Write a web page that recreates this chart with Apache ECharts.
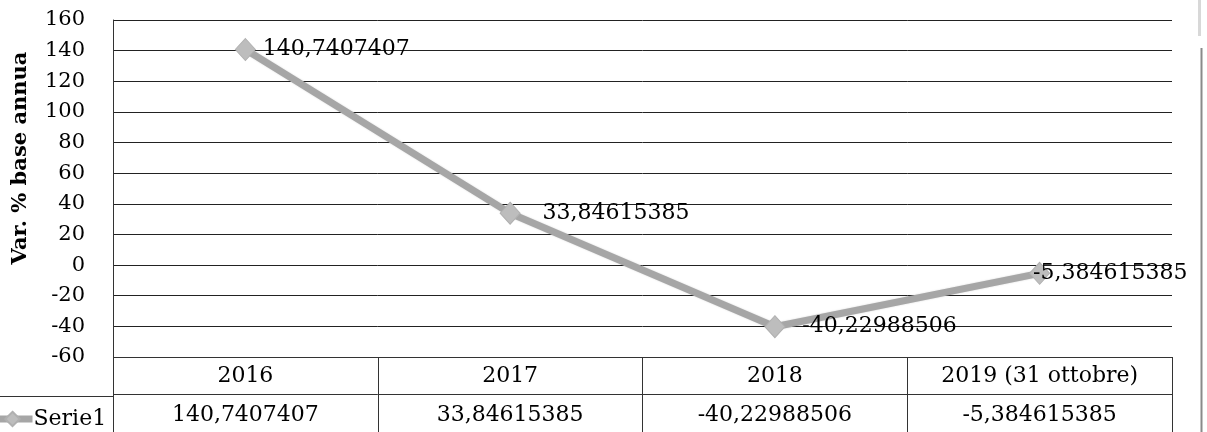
<!DOCTYPE html>
<html>
<head>
<meta charset="utf-8">
<script src="https://cdn.jsdelivr.net/npm/echarts@6/dist/echarts.min.js"></script>
<style>
  html, body { margin: 0; padding: 0; background: #ffffff; }
  #chart { width: 1207px; height: 432px; }
</style>
</head>
<body>
<div id="chart"></div>
<script>
// Annual percentage change, one series with a data table underneath
const categories = ['2016', '2017', '2018', '2019 (31 ottobre)'];
const serie1 = [140.7407407, 33.84615385, -40.22988506, -5.384615385];
const seriesName = 'Serie1';
const yTitle = 'Var. % base annua';
const yMin = -60, yMax = 160, yStep = 20;

// Italian decimal comma
const fmt = v => String(v).replace('.', ',');

const FONT = 'DejaVu Serif';
const INK = '#000000';
const LINE_GREY = '#a6a6a6';

// horizontal nudge of each point label, left to right
const labelShift = [7, 22, 17, -17];

const chart = echarts.init(document.getElementById('chart'), null, { renderer: 'canvas' });

chart.setOption({
  backgroundColor: '#ffffff',
  animation: false,
  grid: [
    { left: 113, right: 35, top: 20, height: 337 },      // plot area
    { left: 113, right: 35, top: 357, height: 78 }       // data table
  ],
  legend: {
    data: [seriesName],
    left: -16,
    top: 403,
    itemWidth: 40,
    itemHeight: 18,
    itemGap: 0,
    lineStyle: { width: 7, color: LINE_GREY },
    textStyle: { fontFamily: FONT, fontSize: 22, color: INK, padding: [0, 0, 0, -4] }
  },
  xAxis: [
    {
      type: 'category', gridIndex: 0, data: categories, boundaryGap: true,
      axisLine: { show: false }, axisTick: { show: false }, splitLine: { show: false },
      axisLabel: {
        interval: 0, margin: 19, verticalAlign: 'middle',
        fontFamily: FONT, fontSize: 22, color: INK
      }
    },
    {
      type: 'category', gridIndex: 0, data: categories, boundaryGap: true, position: 'bottom',
      axisLine: { show: false }, axisTick: { show: false }, splitLine: { show: false },
      axisLabel: {
        interval: 0, margin: 58, verticalAlign: 'middle',
        fontFamily: FONT, fontSize: 22, color: INK,
        formatter: (v, i) => fmt(serie1[i])
      }
    },
    {
      type: 'category', gridIndex: 1, data: categories, boundaryGap: true,
      axisLine: { show: false }, axisTick: { show: false }, axisLabel: { show: false },
      splitLine: { show: true, interval: 0, lineStyle: { color: '#333333', width: 1 } }
    }
  ],
  yAxis: [
    {
      type: 'value', gridIndex: 0, min: yMin, max: yMax, interval: yStep,
      axisLine: { show: true, lineStyle: { color: '#333333', width: 1 } },
      axisTick: { show: false },
      splitLine: { show: true, lineStyle: { color: '#222222', width: 1 } },
      axisLabel: { margin: 28, fontFamily: FONT, fontSize: 21, color: INK }
    },
    {
      type: 'value', gridIndex: 1, min: 0, max: 2, interval: 1, inverse: true,
      axisLine: { show: false }, axisTick: { show: false }, axisLabel: { show: false },
      splitLine: { show: true, lineStyle: { color: '#333333', width: 1 } }
    }
  ],
  graphic: [
    {
      type: 'text', rotation: Math.PI / 2, x: 21, y: 158,
      style: {
        text: yTitle, fontFamily: FONT, fontSize: 21, fontWeight: 'bold',
        fill: INK, align: 'center', verticalAlign: 'middle'
      }
    },
    // legend key cell border
    { type: 'line', shape: { x1: 0, y1: 396.5, x2: 113, y2: 396.5 }, style: { stroke: '#333333', lineWidth: 1 } },
    // page edge on the right
    { type: 'line', shape: { x1: 1201.5, y1: 48, x2: 1201.5, y2: 432 }, style: { stroke: '#8a8a8a', lineWidth: 2 } },
    { type: 'line', shape: { x1: 1199.5, y1: 0, x2: 1199.5, y2: 36 }, style: { stroke: '#d8d8d8', lineWidth: 3 } }
  ],
  series: [
    {
      name: seriesName,
      type: 'line',
      xAxisIndex: 0, yAxisIndex: 0,
      data: serie1.map((v, i) => ({
        value: v,
        label: { offset: [labelShift[i], 0] }
      })),
      symbol: 'diamond',
      symbolSize: [20, 22],
      lineStyle: { color: LINE_GREY, width: 7, shadowColor: 'rgba(0,0,0,0.15)', shadowBlur: 2 },
      itemStyle: { color: '#bdbdbd', borderColor: '#b0b0b0', borderWidth: 1 },
      label: {
        show: true, position: 'right', distance: 0,
        fontFamily: FONT, fontSize: 22, color: INK,
        formatter: p => fmt(p.value)
      },
      z: 3
    }
  ]
});
</script>
</body>
</html>
